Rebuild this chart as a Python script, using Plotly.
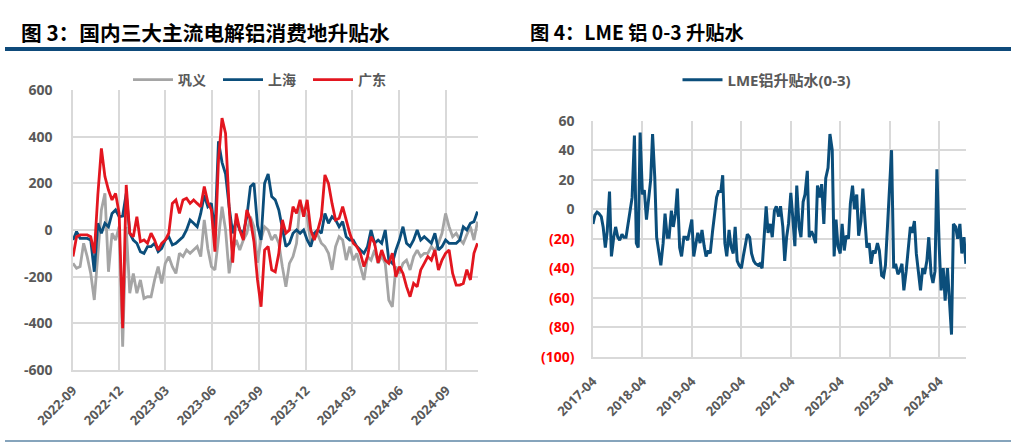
import pandas as pd
import plotly.graph_objects as go

# ---------------- data ----------------
# Figure 3: weekly spot premium/discount, three consumption hubs (2022-09 .. 2024-11)
gongyi = [
    -143, -164, -157, -57, -114, -186, -300, -86, 86, 157,
    -179, -14, -43, 14, -500, 14, -271, -186, -271, -214,
    -293, -286, -286, -214, -157, -229, -143, -114, -157, -186,
    -100, -114, -86, -100, -86, -71, -114, 43, -80, -157,
    -171, -43, 100, 0, -186, -86, -43, -86, -43, -14,
    57, 14, -140, -40, 14, 0, -43, -20, -57, -157,
    -243, -143, -114, -57, 114, 86, 57, -57, -29, -20,
    -57, -71, -100, -171, -71, -29, -43, -129, -71, -129,
    -100, -157, -214, -114, -129, -86, -143, -110, -143, -300,
    -329, -157, -186, -143, -129, -171, -114, -86, -114, -100,
    -100, -71, -90, -57, -14, 71, 14, -29, -14, -40,
    -57, -20, 14, -43, 36,
]
shanghai = [
    -43, -7, -36, -36, -36, -43, -179, 29, -14, 29,
    14, 71, 86, 57, 60, 157, -14, -43, -57, -93,
    -100, -71, -71, -57, -93, -79, -43, -29, -64, -57,
    -43, -29, 0, 43, 29, 14, 71, 150, 100, 114,
    -14, 380, 290, 240, 100, -14, 43, 0, -14, 57,
    186, 200, 20, -43, 200, 240, 143, 129, 86, 0,
    -71, -57, -14, 0, -14, 0, -43, -71, -14, 0,
    -14, 71, 29, 57, 43, 14, 36, -29, -43, -43,
    -71, -86, -100, -71, 0, -57, -43, -57, 0, -129,
    -143, -86, -43, 14, -57, -71, -43, 0, -43, -29,
    -43, -57, -14, -86, -71, -43, -57, -57, -57, -43,
    14, 0, 29, 36, 79,
]
guangdong = [
    -114, -29, -21, -21, -21, -29, -100, 150, 350, 229,
    171, 129, 157, 71, -421, 193, -14, -29, 57, -50,
    -43, -57, -14, -43, -86, -57, -43, -14, 114, 129,
    71, 129, 136, 114, 129, 114, 100, 186, 120, 86,
    -93, 300, 480, 414, 100, -140, 71, 0, -43, 86,
    43, -50, -214, -329, -86, -71, -171, -179, -100, 43,
    -14, 0, 100, 71, 129, 57, 129, 0, -43, 0,
    57, 236, 200, 114, 43, 50, 100, 43, -14, -57,
    -71, -100, -157, -114, -29, -57, -140, -86, -129, -143,
    -100, -200, -157, -186, -243, -286, -229, -243, -171, -143,
    -114, -129, -86, -171, -129, -100, -86, -186, -236, -236,
    -229, -170, -214, -100, -57,
]
left_dates = pd.date_range("2022-09-01", "2024-11-01", periods=len(gongyi))

# Figure 4: LME aluminium 0-3 spread, semi-monthly (2017-04 .. 2024-10)
lme = [
    -10, -4, -2, -3, -5, -12, -26, -15, 12, -32,
    -19, -12, -19, -21, -17, -19, -19, -10, 2, 8,
    50, -23, -26, 52, 10, 13, -7, 6, 20, 51,
    22, -19, -28, -38, -23, -3, -19, -19, -1, -12,
    -3, 14, -26, -32, -19, -19, -21, -14, -7, -32,
    -23, -16, -23, -14, -25, -32, -28, -30, -15, -3,
    8, 12, 12, 23, -23, -32, -14, -25, -30, -12,
    -35, -38, -40, -32, -23, -17, -19, -30, -35, -37,
    -38, -37, -40, -21, 2, -16, -10, -19, -1, 2,
    -5, 2, -12, -35, -19, -10, 11, -5, -25, 16,
    -12, -19, 5, 10, 26, -19, -15, -18, -23, 16,
    8, 17, -10, 21, 28, 51, 40, -32, -7, -25,
    -30, -10, -28, -18, -20, 4, 16, 0, 10, -18,
    -8, 14, -12, -26, -23, -37, -28, -30, -23, -28,
    -45, -46, -38, -12, 10, 40, -40, -37, -44, -42,
    -37, -55, -42, -30, -12, -16, -8, -30, -46, -55,
    -40, -44, -35, -19, -44, -50, -42, 27, -25, -55,
    -40, -62, -40, -60, -85, -10, -12, -20, -10, -30,
    -19, -37,
]
lme_dates = pd.date_range("2017-04-01", periods=len(lme), freq="SMS")

left_names = ["巩义", "上海", "广东"]
left_yticks = [600, 400, 200, 0, -200, -400, -600]
right_yticks = [60, 40, 20, 0, -20, -40, -60, -80, -100]

# ---------------- styling ----------------
W, H = 1011, 442
GRAY_T = "#595959"
GRID = "#D9D9D9"
C_GRAY = "#A5A5A5"
C_BLUE = "#0B4E7B"
C_RED = "#E3161F"
DARK = "#0E4A7A"
FONT = "Open Sans, Noto Sans CJK SC, sans-serif"


def px_x(x):
    return x / W


def px_y(y):
    return 1 - y / H


fig = go.Figure()
for name, vals, col in zip(left_names, [gongyi, shanghai, guangdong], [C_GRAY, C_BLUE, C_RED]):
    fig.add_trace(go.Scatter(x=left_dates, y=vals, name=name, mode="lines",
                             line=dict(color=col, width=2.8), xaxis="x", yaxis="y",
                             legend="legend"))

fig.add_trace(go.Scatter(x=lme_dates, y=lme, name="LME铝升贴水(0-3)", mode="lines",
                         line=dict(color=C_BLUE, width=3), xaxis="x2", yaxis="y2",
                         legend="legend2"))

tickfont = dict(family=FONT, size=13, color=GRAY_T, weight="bold")

right_ticktext = []
for v in right_yticks:
    if v < 0:
        right_ticktext.append(f"<span style='color:#FF0000'>({-v})</span>")
    else:
        right_ticktext.append(str(v))

common = dict(showgrid=True, gridcolor=GRID, gridwidth=1.5,
              showline=True, linecolor=GRID, linewidth=1.5,
              ticks="", zeroline=False, automargin=False)

fig.update_layout(
    width=W, height=H,
    margin=dict(l=0, r=0, t=0, b=0, autoexpand=False),
    paper_bgcolor="white", plot_bgcolor="white",
    showlegend=True,
    xaxis=dict(domain=[px_x(73), px_x(478)], type="date",
               range=["2022-09-01", "2024-11-02"],
               tick0="2022-09-01", dtick="M3", tickformat="%Y-%m", tickangle=-45,
               tickfont=tickfont, ticklabelstandoff=6, anchor="y", **common),
    yaxis=dict(domain=[px_y(370), px_y(90)], range=[-600, 600],
               tickvals=left_yticks, ticktext=[str(v) for v in left_yticks],
               tickfont=dict(family=FONT, size=14, color=GRAY_T, weight="bold"),
               ticklabelstandoff=16, anchor="x", **common),
    xaxis2=dict(domain=[px_x(593), px_x(966)], type="date",
                range=["2017-04-01", "2024-10-16"],
                tick0="2017-04-01", dtick="M12", tickformat="%Y-%m", tickangle=-45,
                tickfont=tickfont, ticklabelstandoff=10, anchor="y2", **common),
    yaxis2=dict(domain=[px_y(356.7), px_y(120.7)], range=[-100, 60],
                tickvals=right_yticks, ticktext=right_ticktext,
                tickfont=dict(family=FONT, size=14, color=GRAY_T, weight="bold"),
                ticklabelstandoff=14, anchor="x2", **common),
    legend=dict(orientation="h", x=px_x(263), xanchor="center", y=px_y(80), yanchor="middle",
                font=dict(family=FONT, size=14, color=GRAY_T, weight="bold"),
                bgcolor="rgba(0,0,0,0)", itemwidth=40, entrywidth=35, tracegroupgap=0),
    legend2=dict(orientation="h", x=px_x(767), xanchor="center", y=px_y(80), yanchor="middle",
                 font=dict(family=FONT, size=15, color=GRAY_T, weight="bold"),
                 bgcolor="rgba(0,0,0,0)", itemwidth=40),
    hovermode=False,
)

# titles
fig.add_annotation(text="图 3：国内三大主流电解铝消费地升贴水", xref="paper", yref="paper",
                   x=px_x(19), y=px_y(32), xanchor="left", yanchor="middle", showarrow=False,
                   font=dict(family="Noto Sans CJK SC", size=20.7, color="black", weight="bold"))
fig.add_annotation(text="图 4：LME 铝 0-3 升贴水", xref="paper", yref="paper",
                   x=px_x(528), y=px_y(32), xanchor="left", yanchor="middle", showarrow=False,
                   font=dict(family="Noto Sans CJK SC", size=19.3, color="black", weight="bold"))

# separator rules
fig.add_shape(type="line", xref="paper", yref="paper", x0=px_x(5), x1=1, y0=px_y(49), y1=px_y(49),
              line=dict(color=DARK, width=4))
fig.add_shape(type="line", xref="paper", yref="paper", x0=px_x(5), x1=1, y0=px_y(441), y1=px_y(441),
              line=dict(color=DARK, width=1.2))

fig.write_html(
    "out.html",
    config={"displayModeBar": False},
    post_script="document.body.style.margin='0px';document.body.style.overflow='hidden';",
)
